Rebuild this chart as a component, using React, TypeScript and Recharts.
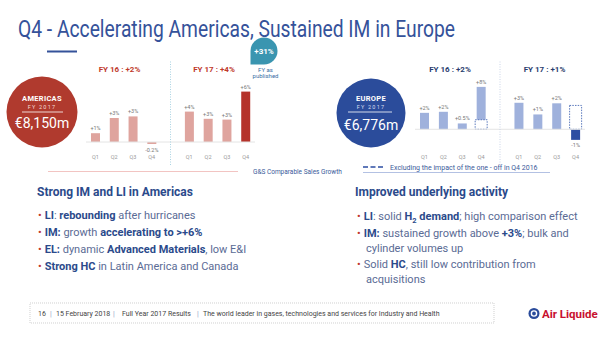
import React from "react";
import { BarChart, Bar, XAxis, YAxis, Cell, LabelList, ReferenceLine } from "recharts";

// quarterly G&S comparable sales growth, FY16 then FY17 (empty slot = divider)
const quarters = ["Q1", "Q2", "Q3", "Q4", "", "Q1", "Q2", "Q3", "Q4"];
const americasGrowth = [1.1, 3.0, 3.2, -0.25, null, 3.8, 2.9, 2.8, 6.3];
const americasLabels = ["+1%", "+3%", "+3%", "-0.2%", "", "+4%", "+3%", "+3%", "+6%"];
const europeGrowth = [3.1, 3.3, 1.1, 8.0, null, 5.0, 2.8, 4.9, -2.0];
const europeExOneOff = [null, null, null, 1.8, null, null, null, null, 4.5];
const europeLabels = ["+2%", "+2%", "+0.5%", "+8%", "", "+3%", "+1%", "+2%", "-1%"];

const americasData = quarters.map((q, i) => ({
  key: "k" + i,
  q,
  v: americasGrowth[i],
  label: americasLabels[i],
}));
const europeData = quarters.map((q, i) => ({
  key: "k" + i,
  q,
  v: europeGrowth[i],
  ex: europeExOneOff[i],
  label: europeLabels[i],
}));

const FONT = "Roboto, sans-serif";
const NAVY = "#2b4a8b";
const TEXT = "#5a6b95";

const valueLabel = (p: any) => {
  const { x, y, width, height, value } = p;
  if (!value) return null;
  const top = Math.min(y, y + height);
  const bottom = Math.max(y, y + height);
  const neg = String(value).startsWith("-");
  return (
    <text x={x + width / 2} y={neg ? bottom + 7.5 : top - 3} textAnchor="middle" fontSize={5.5} fill="#777" fontFamily={FONT}>
      {value}
    </text>
  );
};

const quarterTick = (p: any) => {
  const { x, index } = p;
  return (
    <text x={x} y={99} textAnchor="middle" fontSize={5.5} fill="#999" fontFamily={FONT}>
      {quarters[index]}
    </text>
  );
};

const dashedBox = (p: any) => {
  const { x, y, width, height } = p;
  if (!height) return null;
  const top = Math.min(y, y + height);
  return (
    <rect x={x - 1.5} y={top} width={width + 3} height={Math.abs(height)} fill="#fff" stroke="#4a6bb5" strokeWidth={0.9} strokeDasharray="1.5 1.2" />
  );
};

function AmericasChart() {
  return (
    <div style={{ position: "absolute", left: 86, top: 60 }}>
      <BarChart width={169} height={106} data={americasData} margin={{ top: 0, right: 0, bottom: 0, left: 0 }} barSize={9}>
        <YAxis hide domain={[-2.875, 10.25]} allowDataOverflow />
        <XAxis dataKey="key" height={1} axisLine={false} tickLine={false} interval={0} tick={quarterTick} />
        <ReferenceLine y={0} stroke="#e4e4e4" />
        <ReferenceLine x="k4" stroke="#a9d3e3" strokeDasharray="1 1.5" />
        <Bar dataKey="v" isAnimationActive={false}>
          {americasData.map((d, i) => (
            <Cell key={i} fill={i === 8 ? "#b5332b" : "#dfa49e"} />
          ))}
          <LabelList dataKey="label" content={valueLabel} />
        </Bar>
      </BarChart>
    </div>
  );
}

function EuropeChart() {
  return (
    <div style={{ position: "absolute", left: 415, top: 60 }}>
      <BarChart width={170} height={106} data={europeData} margin={{ top: 0, right: 0, bottom: 0, left: 0 }} barSize={9} barGap={-9}>
        <YAxis hide domain={[-6.74, 13.07]} allowDataOverflow />
        <XAxis dataKey="key" height={1} axisLine={false} tickLine={false} interval={0} tick={quarterTick} />
        <ReferenceLine y={0} stroke="#e4e4e4" />
        <ReferenceLine x="k4" stroke="#c9d4e8" strokeDasharray="1 1.5" />
        <Bar dataKey="v" isAnimationActive={false}>
          {europeData.map((d, i) => (
            <Cell key={i} fill={i === 8 ? "#2d4ea2" : "#9fb1dc"} />
          ))}
          <LabelList dataKey="label" content={valueLabel} />
        </Bar>
        <Bar dataKey="ex" isAnimationActive={false} shape={dashedBox} />
      </BarChart>
    </div>
  );
}

function Slide() {
  return (
    <svg width={600} height={337} style={{ position: "absolute", left: 0, top: 0 }} fontFamily={FONT}>
      <rect width={600} height={337} fill="#fff" />
      <text x={18} y={36.5} fontSize={23} fill="#35529a" textLength={437} lengthAdjust="spacingAndGlyphs">
        Q4 - Accelerating Americas, Sustained IM in Europe
      </text>
      <rect x={47} y={50.5} width={30} height={2} fill="#35529a" />

      {/* +31% bubble */}
      <path d="M 250.5 51 A 13.5 13.5 0 1 1 264 64.5 L 250.5 64.5 Z" fill="#3a95b0" />
      <text x={264} y={53.5} fontSize={8} fontWeight="bold" fill="#fff" textAnchor="middle">+31%</text>
      <text x={265.5} y={71.5} fontSize={6} fill="#3a6ea5" textAnchor="middle">FY as</text>
      <text x={265.5} y={78} fontSize={6} fill="#3a6ea5" textAnchor="middle">published</text>

      {/* Americas */}
      <circle cx={42} cy={112} r={35.5} fill="#b03a2e" />
      <text x={42} y={101} fontSize={7.5} fontWeight="bold" fill="#fff" textAnchor="middle" letterSpacing={0.3}>AMERICAS</text>
      <text x={42} y={108.5} fontSize={5.5} fill="#f3dcd9" textAnchor="middle" letterSpacing={1.2}>FY 2017</text>
      <line x1={22} x2={63} y1={112} y2={112} stroke="#fff" strokeWidth={0.8} />
      <text x={42} y={128} fontSize={14} fill="#fff" textAnchor="middle">€8,150m</text>
      <text x={119.5} y={72} fontSize={8} fontWeight="bold" fill="#c0392b" textAnchor="middle">FY 16 : +2%</text>
      <text x={214} y={72} fontSize={8} fontWeight="bold" fill="#c0392b" textAnchor="middle">FY 17 : +4%</text>
      <line x1={48} x2={238} y1={171.5} y2={171.5} stroke="#f2c4c2" strokeWidth={1} />
      <text x={253} y={173.5} fontSize={6.5} fill="#3a5a9a">G&amp;S Comparable Sales Growth</text>

      {/* Europe */}
      <circle cx={371} cy={113} r={34.5} fill="#2b4c9b" />
      <text x={371} y={101} fontSize={7.5} fontWeight="bold" fill="#fff" textAnchor="middle" letterSpacing={0.3}>EUROPE</text>
      <text x={371} y={108.5} fontSize={5.5} fill="#d5ddef" textAnchor="middle" letterSpacing={1.2}>FY 2017</text>
      <line x1={348} x2={392} y1={112} y2={112} stroke="#fff" strokeWidth={0.8} />
      <text x={371} y={129.5} fontSize={14} fill="#fff" textAnchor="middle">€6,776m</text>
      <text x={450} y={72} fontSize={8} fontWeight="bold" fill="#2a3d6e" textAnchor="middle">FY 16 : +2%</text>
      <text x={544.5} y={72} fontSize={8} fontWeight="bold" fill="#2a3d6e" textAnchor="middle">FY 17 : +1%</text>
      <line x1={363} x2={385} y1={167} y2={167} stroke="#2d4ea2" strokeWidth={1.6} strokeDasharray="5 2.5" />
      <text x={390} y={169.5} fontSize={7} fill="#3a5a9a">Excluding the impact of the one - off in Q4 2016</text>
      <line x1={363} x2={550} y1={172.5} y2={172.5} stroke="#9fb1dc" strokeWidth={0.8} />

      {/* commentary */}
      <text x={37} y={196} fontSize={12} fontWeight="bold" fill={NAVY}>Strong IM and LI in Americas</text>
      <g fontSize={11} fill={TEXT}>
        <text x={38} y={219}><tspan fill="#c0392b">•</tspan><tspan dx={3} fontWeight="bold" fill={NAVY}>LI</tspan>: <tspan fontWeight="bold" fill={NAVY}>rebounding</tspan> after hurricanes</text>
        <text x={38} y={236}><tspan fill="#c0392b">•</tspan><tspan dx={3} fontWeight="bold" fill={NAVY}>IM:</tspan> growth <tspan fontWeight="bold" fill={NAVY}>accelerating to &gt;+6%</tspan></text>
        <text x={38} y={253}><tspan fill="#c0392b">•</tspan><tspan dx={3} fontWeight="bold" fill={NAVY}>EL:</tspan> dynamic <tspan fontWeight="bold" fill={NAVY}>Advanced Materials</tspan>, low E&amp;I</text>
        <text x={38} y={270}><tspan fill="#c0392b">•</tspan><tspan dx={3} fontWeight="bold" fill={NAVY}>Strong HC</tspan> in Latin America and Canada</text>
      </g>

      <text x={355} y={196} fontSize={12} fontWeight="bold" fill={NAVY}>Improved underlying activity</text>
      <g fontSize={11} fill={TEXT}>
        <text x={357} y={220}><tspan fill="#c0392b">•</tspan><tspan dx={3} fontWeight="bold" fill={NAVY}>LI</tspan>: solid <tspan fontWeight="bold" fill={NAVY}>H</tspan><tspan fontWeight="bold" fill={NAVY} fontSize={7.5} dy={2.5}>2</tspan><tspan fontWeight="bold" fill={NAVY} dy={-2.5}> demand</tspan>; high comparison effect</text>
        <text x={357} y={237}><tspan fill="#c0392b">•</tspan><tspan dx={3} fontWeight="bold" fill={NAVY}>IM:</tspan> sustained growth above <tspan fontWeight="bold" fill={NAVY}>+3%</tspan>; bulk and</text>
        <text x={366} y={252}>cylinder volumes up</text>
        <text x={357} y={268}><tspan fill="#c0392b">•</tspan><tspan dx={3}>Solid </tspan><tspan fontWeight="bold" fill={NAVY}>HC</tspan>, still low contribution from</text>
        <text x={366} y={283}>acquisitions</text>
      </g>

      {/* footer */}
      <rect x={30} y={303} width={464} height={20} fill="none" stroke="#bbb" strokeWidth={0.7} strokeDasharray="1 1" />
      <g fontSize={7} fill="#444">
        <text x={38} y={315.5}>16</text>
        <text x={50} y={315.5} fill="#8a9cc4">|</text>
        <text x={56} y={315.5}>15 February 2018</text>
        <text x={113} y={315.5} fill="#8a9cc4">|</text>
        <text x={122} y={315.5}>Full Year 2017 Results</text>
        <text x={197} y={315.5} fill="#8a9cc4">|</text>
        <text x={203} y={315.5}>The world leader in gases, technologies and services for Industry and Health</text>
      </g>
      <circle cx={534} cy={313.5} r={5.5} fill="#2a4b9b" />
      <circle cx={534} cy={313.5} r={2.6} fill="none" stroke="#fff" strokeWidth={1.4} />
      <text x={542} y={318} fontSize={11.5} fontWeight="bold" fill="#c8102e">Air Liquide</text>
    </svg>
  );
}

export default function App() {
  return (
    <div style={{ position: "absolute", left: 0, top: 0, width: 600, height: 337, background: "#fff", overflow: "hidden" }}>
      <Slide />
      <AmericasChart />
      <EuropeChart />
    </div>
  );
}
